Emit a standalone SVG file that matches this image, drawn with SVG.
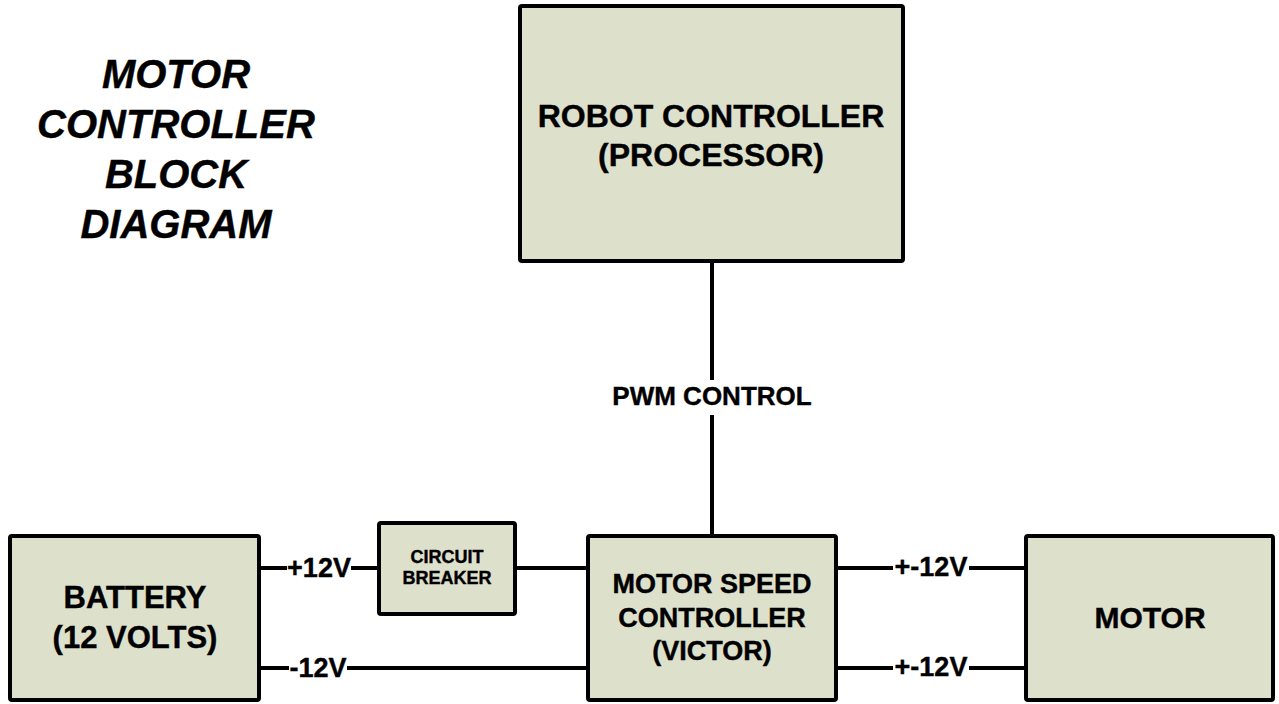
<svg xmlns="http://www.w3.org/2000/svg" width="1279" height="704" viewBox="0 0 1279 704">
  <style>
    .box { fill: #dde1cc; stroke: #000; stroke-width: 4; }
    .wire { stroke: #000; stroke-width: 4; fill: none; }
    text { font-family: "Liberation Sans", Arial, sans-serif; font-weight: bold; fill: #000; stroke: #000; stroke-width: 0.4; text-anchor: middle; }
    .title { font-size: 40px; font-style: italic; }
    .lbl { font-size: 27px; }
  </style>
  <rect width="1279" height="704" fill="#fff"/>
  <g id="title">
    <text class="title" x="176" y="88">MOTOR</text>
    <text class="title" x="176" y="138">CONTROLLER</text>
    <text class="title" x="176" y="188">BLOCK</text>
    <text class="title" x="176" y="238">DIAGRAM</text>
  </g>
  <g id="connectors">
    <line class="wire" x1="712" y1="263" x2="712" y2="380"/>
    <line class="wire" x1="712" y1="415" x2="712" y2="534"/>
    <text x="712" y="405" style="font-size:26px">PWM CONTROL</text>
    <line class="wire" x1="261" y1="568" x2="287" y2="568"/>
    <text class="lbl" x="319" y="577">+12V</text>
    <line class="wire" x1="351" y1="568" x2="377" y2="568"/>
    <line class="wire" x1="517" y1="568" x2="586" y2="568"/>
    <line class="wire" x1="261" y1="668" x2="289" y2="668"/>
    <text class="lbl" x="318" y="677">-12V</text>
    <line class="wire" x1="347" y1="668" x2="586" y2="668"/>
    <line class="wire" x1="838" y1="568" x2="893" y2="568"/>
    <text class="lbl" x="931" y="576">+-12V</text>
    <line class="wire" x1="969" y1="568" x2="1025" y2="568"/>
    <line class="wire" x1="838" y1="668" x2="893" y2="668"/>
    <text class="lbl" x="931" y="676">+-12V</text>
    <line class="wire" x1="969" y1="668" x2="1025" y2="668"/>
  </g>
  <g id="robot-controller">
    <rect class="box" x="520" y="6" width="383" height="255" rx="2"/>
    <text x="711" y="127" style="font-size:32px">ROBOT CONTROLLER</text>
    <text x="711" y="166" style="font-size:32px">(PROCESSOR)</text>
  </g>
  <g id="battery">
    <rect class="box" x="10" y="536" width="249" height="164" rx="2"/>
    <text x="135" y="608" style="font-size:31px">BATTERY</text>
    <text x="135" y="648" style="font-size:31px">(12 VOLTS)</text>
  </g>
  <g id="circuit-breaker">
    <rect class="box" x="379" y="523" width="136" height="91" rx="2"/>
    <text x="447" y="563" style="font-size:18px">CIRCUIT</text>
    <text x="447" y="584" style="font-size:18px">BREAKER</text>
  </g>
  <g id="motor-speed-controller">
    <rect class="box" x="588" y="536" width="248" height="164" rx="2"/>
    <text x="712" y="593" style="font-size:27px">MOTOR SPEED</text>
    <text x="712" y="627" style="font-size:27px">CONTROLLER</text>
    <text x="712" y="660" style="font-size:27px">(VICTOR)</text>
  </g>
  <g id="motor">
    <rect class="box" x="1026" y="536" width="247" height="164" rx="2"/>
    <text x="1150" y="628" style="font-size:30px">MOTOR</text>
  </g>
</svg>
